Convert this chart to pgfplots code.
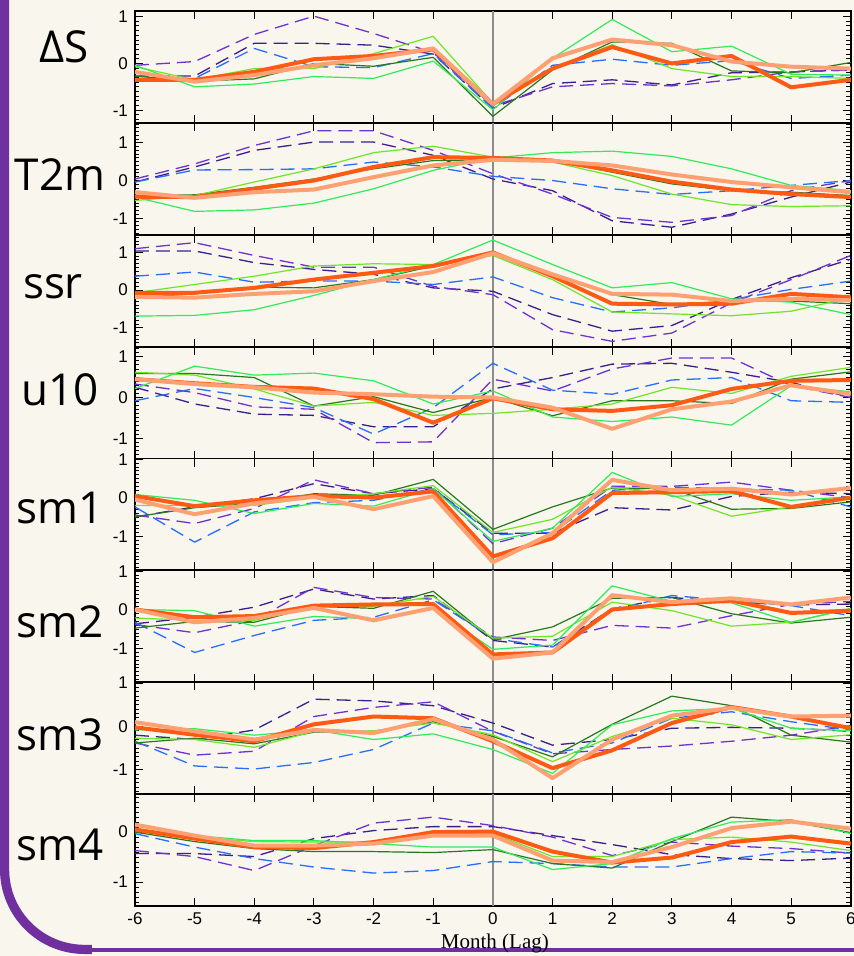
\documentclass[border=0pt]{standalone}
\usepackage{fontspec}
\setmainfont{Liberation Sans}
\newfontfamily\labfont{Open Sans}
\newfontfamily\serffont{Liberation Serif}
\usepackage{pgfplots}
\pgfplotsset{compat=1.18}
\usepackage{pgfplotstable}
\usepgfplotslibrary{groupplots}
\usetikzlibrary{calc,backgrounds}

\definecolor{cA}{RGB}{40,120,30}
\definecolor{cB}{RGB}{110,230,40}
\definecolor{cC}{RGB}{50,235,90}
\definecolor{cD}{RGB}{255,90,20}
\definecolor{cE}{RGB}{255,160,115}
\definecolor{cF}{RGB}{60,30,140}
\definecolor{cG}{RGB}{110,50,210}
\definecolor{cH}{RGB}{40,110,250}
\definecolor{bgc}{RGB}{248,246,237}
\definecolor{purp}{RGB}{112,48,160}

% columns: A dark green, B lime, C spring green, D orange (thick), E salmon (thick),
% F indigo dashed, G violet dashed, H blue dashed
\pgfplotstableread{
x   A     B     C     D     E     F     G     H
-6 -0.27 -0.07 -0.04 -0.35 -0.18 -0.27 -0.04 -0.32
-5 -0.38 -0.35 -0.50 -0.35 -0.39 -0.27  0.04 -0.32
-4 -0.33 -0.11 -0.44 -0.18 -0.25  0.43  0.62  0.32
-3  0.00 -0.11 -0.28  0.09 -0.04  0.43  1.01 -0.07
-2 -0.06  0.21 -0.32  0.16  0.11  0.39  0.64 -0.09
-1  0.13  0.58  0.05  0.30  0.32  0.20  0.23  0.21
 0 -1.13 -0.85 -0.99 -0.87 -0.87 -0.96 -0.91 -0.96
 1 -0.14 -0.11  0.11 -0.11  0.11 -0.43 -0.50 -0.04
 2  0.46  0.40  0.94  0.35  0.51 -0.35 -0.43  0.09
 3  0.43 -0.11  0.25  0.00  0.39 -0.46 -0.48 -0.04
 4 -0.16 -0.28  0.37  0.16  0.04 -0.20 -0.35  0.06
 5 -0.20 -0.28 -0.23 -0.51 -0.07 -0.18 -0.18 -0.32
 6  0.02 -0.32 -0.25 -0.35 -0.11 -0.14 -0.14 -0.25
}\tDS
\pgfplotstableread{
x   A     B     C     D     E     F     G     H
-6 -0.40 -0.53 -0.44 -0.43 -0.31 -0.04  0.04 -0.04
-5 -0.38 -0.40 -0.82 -0.44 -0.46  0.36  0.44  0.28
-4 -0.18 -0.04 -0.78 -0.22 -0.31  0.80  0.93  0.29
-3  0.04  0.31 -0.60  0.00 -0.24  1.02  1.32  0.31
-2  0.31  0.74 -0.22  0.36  0.09  1.02  1.32  0.49
-1  0.53  0.91  0.27  0.62  0.40  0.67  0.80  0.36
 0  0.55  0.62  0.60  0.60  0.55  0.04  0.18  0.11
 1  0.53  0.49  0.74  0.53  0.52 -0.27 -0.36  0.00
 2  0.22  0.13  0.78  0.27  0.40 -1.07 -0.98 -0.22
 3 -0.09 -0.36  0.64 -0.03  0.16 -1.24 -1.11 -0.37
 4 -0.27 -0.64  0.31 -0.24 -0.04 -0.89 -0.93 -0.27
 5 -0.31 -0.69 -0.13 -0.36 -0.18 -0.44 -0.27 -0.13
 6 -0.40 -0.67 -0.27 -0.44 -0.31 -0.04  0.00  0.00
}\tTM
\pgfplotstableread{
x   A     B     C     D     E     F     G     H
-6 -0.20 -0.07 -0.69 -0.07 -0.18  1.04  1.10  0.37
-5 -0.10  0.15 -0.67 -0.07 -0.20  1.04  1.26  0.48
-4  0.08  0.37 -0.52  0.06 -0.10  0.73  0.92  0.21
-3  0.06  0.64 -0.14  0.28 -0.03  0.55  0.61  0.24
-2  0.28  0.70  0.28  0.46  0.24  0.42  0.61  0.24
-1  0.64  0.68  0.68  0.64  0.48  0.06  0.10  0.15
 0  0.95  0.92  1.33  1.00  0.98 -0.03 -0.12  0.35
 1  0.42  0.28  0.68  0.37  0.42 -0.65 -1.05 -0.20
 2 -0.12 -0.58  0.06 -0.36 -0.10 -1.09 -1.36 -0.58
 3 -0.38 -0.63  0.20 -0.38 -0.12 -0.94 -1.14 -0.47
 4 -0.29 -0.68 -0.23 -0.36 -0.29 -0.25 -0.34 -0.25
 5 -0.29 -0.56 -0.32 -0.10 -0.23  0.33  0.28  0.02
 6 -0.36 -0.20 -0.65 -0.19 -0.27  0.82  0.92  0.24
}\tSSR
\pgfplotstableread{
x   A     B     C     D     E     F     G     H
-6  0.59  0.62  0.22  0.45  0.45  0.25  0.33 -0.08
-5  0.59  0.55  0.77  0.35  0.33 -0.16  0.12  0.22
-4  0.49  0.21  0.55  0.26  0.25 -0.41 -0.23  0.00
-3 -0.21 -0.21  0.60  0.22  0.12 -0.44 -0.29 -0.25
-2  0.02 -0.12  0.41 -0.04  0.08 -0.72 -1.11 -0.90
-1 -0.37 -0.44 -0.16 -0.62  0.02 -0.72 -1.09 -0.25
 0  0.00 -0.39  0.16 -0.02  0.00  0.21  0.45  0.84
 1 -0.45 -0.29 -0.48 -0.29 -0.25  0.49  0.16  0.18
 2 -0.08 -0.16 -0.59 -0.33 -0.77  0.82  0.70  0.08
 3 -0.08  0.25 -0.48 -0.19 -0.29  0.84  0.97  0.43
 4 -0.15  0.10 -0.68  0.21 -0.10  0.62  0.97  0.49
 5  0.45  0.52  0.29  0.41  0.30  0.37  0.29 -0.08
 6  0.63  0.74  0.14  0.43  0.08  0.00  0.00 -0.12
}\tUX
\pgfplotstableread{
x   A     B     C     D     E     F     G     H
-6 -0.49 -0.19  0.09  0.05 -0.04 -0.49 -0.44 -0.23
-5 -0.25 -0.20 -0.06 -0.21 -0.42 -0.23 -0.66 -1.14
-4 -0.14 -0.19 -0.40 -0.06 -0.14 -0.02 -0.27 -0.36
-3  0.11  0.01 -0.14  0.05  0.03  0.37  0.47 -0.12
-2  0.07  0.11 -0.21  0.01 -0.29  0.11  0.11 -0.06
-1  0.48  0.32  0.24  0.17  0.05  0.24  0.28  0.24
 0 -0.81 -0.89 -1.12 -1.51 -1.66 -0.91 -1.18 -0.95
 1 -0.23 -0.55 -0.78 -1.04 -0.91 -0.91 -0.78 -0.89
 2  0.26  0.28  0.66  0.13  0.47 -0.25  0.30  0.20
 3  0.24  0.07  0.04  0.15  0.20 -0.31  0.30  0.28
 4 -0.29 -0.47  0.11  0.18  0.24  0.04  0.41  0.24
 5 -0.27 -0.23 -0.06 -0.23  0.09  0.15  0.20  0.20
 6 -0.10  0.03  0.03  0.01  0.26  0.11  0.01 -0.23
}\tSMa
\pgfplotstableread{
x   A     B     C     D     E     F     G     H
-6 -0.47 -0.21  0.01  0.01  0.01 -0.36 -0.38 -0.32
-5 -0.30 -0.27 -0.02 -0.19 -0.32 -0.19 -0.59 -1.10
-4 -0.32 -0.27 -0.42 -0.16 -0.21  0.07 -0.27 -0.66
-3  0.09  0.09 -0.17  0.11  0.05  0.54  0.58 -0.27
-2  0.04  0.09 -0.23  0.14 -0.27  0.28  0.32 -0.19
-1  0.48  0.35  0.03  0.15  0.05  0.37  0.28  0.26
 0 -0.77 -0.73 -1.02 -1.15 -1.26 -0.79 -0.70 -0.74
 1 -0.44 -0.68 -0.91 -1.10 -1.10 -0.96 -0.79 -0.96
 2  0.30  0.20  0.62  0.01  0.38  0.03 -0.40 -0.02
 3  0.32 -0.02  0.22  0.15  0.20  0.32 -0.47  0.37
 4 -0.10 -0.42  0.18  0.24  0.30  0.20 -0.15  0.24
 5 -0.34 -0.32 -0.32 -0.08  0.14  0.13  0.14  0.11
 6 -0.19  0.03  0.04 -0.02  0.32  0.15  0.22 -0.15
}\tSMb
\pgfplotstableread{
x   A     B     C     D     E     F     G     H
-6 -0.38 -0.27 -0.08 -0.02  0.10 -0.20 -0.38 -0.34
-5 -0.27 -0.30 -0.05 -0.19 -0.11 -0.30 -0.66 -0.91
-4 -0.40 -0.48 -0.20 -0.34 -0.30 -0.08 -0.57 -0.98
-3 -0.13 -0.11 -0.08  0.05 -0.08  0.63  0.23 -0.83
-2 -0.11 -0.10 -0.30  0.23 -0.15  0.59  0.44 -0.53
-1  0.11  0.08 -0.17  0.19  0.17  0.48  0.57  0.08
 0 -0.23 -0.19 -0.53 -0.34 -0.30  0.08 -0.11 -0.10
 1 -0.70 -0.81 -1.08 -0.96 -1.19 -0.43 -0.63 -0.61
 2  0.05 -0.23  0.04 -0.55 -0.30 -0.30 -0.53 -0.38
 3  0.70  0.19  0.36  0.08  0.25 -0.04 -0.45  0.19
 4  0.48  0.04  0.42  0.45  0.43 -0.02 -0.34  0.34
 5 -0.20 -0.30 -0.04  0.23  0.23 -0.04 -0.20  0.11
 6 -0.36 -0.19 -0.10 -0.04  0.25 -0.11  0.02 -0.08
}\tSMc
\pgfplotstableread{
x   A     B     C     D     E     F     G     H
-6  0.00  0.08  0.05  0.05  0.15 -0.43 -0.37 -0.03
-5 -0.19 -0.10 -0.07 -0.13 -0.07 -0.43 -0.49 -0.30
-4 -0.33 -0.19 -0.17 -0.30 -0.27 -0.49 -0.77 -0.53
-3 -0.39 -0.20 -0.17 -0.32 -0.27 -0.13 -0.27 -0.70
-2 -0.39 -0.20 -0.23 -0.20 -0.23  0.03  0.18 -0.82
-1 -0.41 -0.03 -0.30  0.00 -0.07  0.11  0.30 -0.77
 0 -0.35 -0.03 -0.30  0.01 -0.07  0.11  0.13 -0.59
 1 -0.63 -0.49 -0.75 -0.39 -0.57 -0.07 -0.10 -0.63
 2 -0.72 -0.49 -0.63 -0.61 -0.60 -0.25 -0.47 -0.70
 3 -0.19 -0.15 -0.13 -0.51 -0.30 -0.45 -0.20 -0.70
 4  0.30 -0.10  0.20 -0.20  0.08 -0.53 -0.28 -0.53
 5  0.21 -0.20  0.25 -0.09  0.21 -0.57 -0.33 -0.39
 6 -0.01 -0.37 -0.03 -0.23  0.07 -0.52 -0.42 -0.42
}\tSMd

\tikzset{
  lthin/.style={line width=0.6pt},
  ldash/.style={line width=0.65pt, dash pattern=on 7pt off 3.5pt},
  lthick/.style={line width=2pt, line join=round},
}
\newcommand\panel[1]{%
  \addplot[cF, ldash] table[x=x, y=F] {#1};
  \addplot[cG, ldash] table[x=x, y=G] {#1};
  \addplot[cH, ldash] table[x=x, y=H] {#1};
  \addplot[cA, lthin] table[x=x, y=A] {#1};
  \addplot[cB, lthin] table[x=x, y=B] {#1};
  \addplot[cC, lthin] table[x=x, y=C] {#1};
  \addplot[cD, lthick] table[x=x, y=D] {#1};
  \addplot[cE, lthick] table[x=x, y=E] {#1};
}

\begin{document}
\begin{tikzpicture}
\begin{groupplot}[
  group style={group size=1 by 8, vertical sep=0pt, xticklabels at=edge bottom},
  width=358pt, height=55.95pt, scale only axis,
  xmin=-6, xmax=6, xtick={-6,...,6},
  ytick={-1,0,1}, minor ytick={-2,-1.9,...,1.6},
  tick align=inside, major tick length=4pt, minor tick length=2.2pt,
  tick style={black, line width=0.5pt},
  axis line style={line width=0.9pt},
  ticklabel style={font=\fontsize{8.5}{10}\selectfont},
  /pgf/number format/assume math mode=true,
  extra x ticks={0}, extra x tick labels={},
  extra x tick style={grid=major, major tick length=0pt,
    major grid style={draw=black!45, line width=0.7pt}},
  every axis plot/.append style={no markers, line join=round},
]
\nextgroupplot[ymin=-1.27, ymax=1.12]
\panel{\tDS}
\nextgroupplot[ymin=-1.44, ymax=1.53]
\panel{\tTM}
\nextgroupplot[ymin=-1.5, ymax=1.47]
\panel{\tSSR}
\nextgroupplot[ymin=-1.5, ymax=1.25]
\panel{\tUX}
\nextgroupplot[ymin=-1.87, ymax=1.02]
\panel{\tSMa}
\nextgroupplot[ymin=-1.87, ymax=1.02]
\panel{\tSMb}
\nextgroupplot[ymin=-1.56, ymax=1.02]
\panel{\tSMc}
\nextgroupplot[ymin=-1.48, ymax=0.76]
\panel{\tSMd}
\end{groupplot}

\coordinate (TL) at ($(group c1r1.north west)+(-67.5pt,5.5pt)$);
\coordinate (BR) at ($(group c1r8.south east)+(1.5pt,-25pt)$);
\coordinate (BL) at (BR -| TL);
\begin{scope}[on background layer]
  \fill[bgc] (TL) rectangle (BR);
\end{scope}

% slide frame
\draw[purp, line width=4.6pt, rounded corners=40pt]
  ($(TL)+(2.3pt,0)$) -- ($(BL)+(2.3pt,3.3pt)$) -- ($(BL)+(46pt,3.3pt)$);
\draw[purp, line width=2pt] ($(BL)+(44pt,3pt)$) -- ($(BR)+(0,3pt)$);

% row labels
\begin{scope}[every node/.style={font=\labfont\fontsize{22}{24}\selectfont, inner sep=0pt}]
  \node at ($(TL)+(32pt,-23.5pt)$) {ΔS};
  \node at ($(TL)+(30pt,-87.5pt)$) {T2m};
  \node at ($(TL)+(26.5pt,-143.5pt)$) {ssr};
  \node at ($(TL)+(30pt,-195pt)$) {u10};
  \node at ($(TL)+(30pt,-254pt)$) {sm1};
  \node at ($(TL)+(30pt,-311pt)$) {sm2};
  \node at ($(TL)+(30pt,-367.5pt)$) {sm3};
  \node at ($(TL)+(30pt,-422.5pt)$) {sm4};
\end{scope}

\node[font=\serffont\fontsize{10.5}{12}\selectfont, inner sep=0pt] at ($(TL)+(247.5pt,-472pt)$) {Month (Lag)};

\pgfresetboundingbox
\path[use as bounding box] (TL) rectangle (BR);
\end{tikzpicture}
\end{document}
